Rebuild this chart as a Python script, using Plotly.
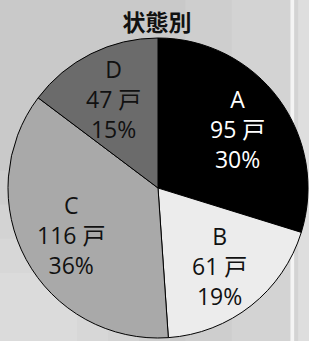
import math
import plotly.graph_objects as go

labels = ["A", "B", "C", "D"]
values = [95, 61, 116, 47]
unit = "戸"
colors = ["#000000", "#ececec", "#a9a9a9", "#6b6b6b"]
text_colors = ["#ffffff", "#111111", "#111111", "#111111"]
title = "状態別"

W, H = 309, 341
dom_x = [0.0259, 0.9968]
dom_y = [0.0088, 0.8886]

fig = go.Figure(go.Pie(
    labels=labels,
    values=values,
    sort=False,
    direction="clockwise",
    rotation=0,
    marker=dict(colors=colors, line=dict(color="#000000", width=1)),
    textinfo="none",
    hoverinfo="none",
    showlegend=False,
    domain=dict(x=dom_x, y=dom_y),
))

# label placement along each slice's mid-angle (derived from the values)
cx = W * (dom_x[0] + dom_x[1]) / 2
cy_b = H * (dom_y[0] + dom_y[1]) / 2
r = min(W * (dom_x[1] - dom_x[0]), H * (dom_y[1] - dom_y[0])) / 2
total = sum(values)
cum = 0
annotations = []
for lab, v, tc in zip(labels, values, text_colors):
    mid = (cum + v / 2) / total * 2 * math.pi
    cum += v
    d = 0.66 * r
    px = cx + d * math.sin(mid)
    py = cy_b + d * math.cos(mid)
    pct = round(v / total * 100)
    annotations.append(dict(
        x=px / W, y=py / H, xref="paper", yref="paper",
        text=f"{lab}<br>{v} {unit}<br>{pct}%",
        showarrow=False, xanchor="center", yanchor="middle",
        font=dict(family="Open Sans, Noto Sans CJK JP", size=23, color=tc),
    ))

# soft background shading
shapes = []
for x1, y1 in [(0.55, 0.5), (0.45, 0.4), (0.35, 0.3), (0.25, 0.2)]:
    shapes.append(dict(type="rect", xref="paper", yref="paper", x0=0, x1=x1, y0=0, y1=y1,
                       fillcolor="#ffffff", opacity=0.1, line=dict(width=0), layer="below"))
for x0 in [0.6, 0.75]:
    shapes.append(dict(type="rect", xref="paper", yref="paper", x0=x0, x1=1, y0=0, y1=1,
                       fillcolor="#ffffff", opacity=0.1, line=dict(width=0), layer="below"))
shapes.append(dict(type="rect", xref="paper", yref="paper", x0=0.94, x1=0.952, y0=0, y1=1,
                   fillcolor="#f4f4f4", line=dict(width=0), layer="below"))
shapes.append(dict(type="rect", xref="paper", yref="paper", x0=0.965, x1=1.0, y0=0, y1=1,
                   fillcolor="#dedede", line=dict(width=0), layer="below"))

fig.update_layout(
    width=W, height=H,
    margin=dict(l=0, r=0, t=0, b=0),
    paper_bgcolor="#c9c9c9",
    plot_bgcolor="#c9c9c9",
    title=dict(text="<b>" + title + "</b>", x=0.508, xanchor="center", y=0.932, yanchor="middle",
               font=dict(family="Noto Sans CJK JP", size=23, color="#111111")),
    annotations=annotations,
    shapes=shapes,
)

fig.write_html("out.html", config={"displayModeBar": False},
               post_script="document.body.style.margin='0';")
